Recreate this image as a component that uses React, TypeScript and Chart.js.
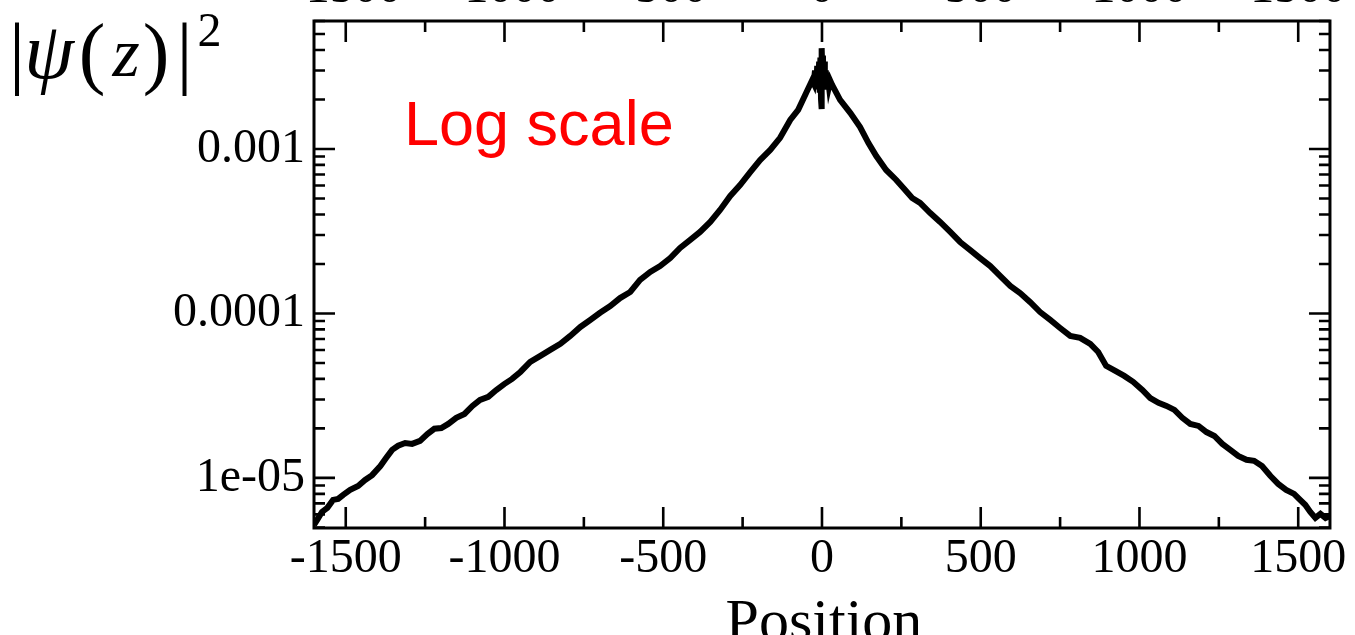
import React, { useEffect, useRef } from "react";
import { Chart, registerables } from "chart.js";

Chart.register(...registerables);

// ---- data ----
const positions: number[] = [
  -1600, -1590, -1575, -1558, -1540, -1524, -1508, -1486, -1461, -1439,
  -1417, -1391, -1373, -1354, -1335, -1313, -1291, -1266, -1243, -1221,
  -1199, -1177, -1152, -1126, -1101, -1077, -1051, -1026, -1001, -976,
  -950, -919, -887, -856, -824, -793, -761, -730, -699, -667,
  -636, -604, -573, -541, -510, -478, -447, -415, -384, -352,
  -321, -289, -258, -226, -195, -163, -132, -100, -75, -50,
  -31, -26, -22, -18, -15, -12, -9, -7, -5, -3,
  -2, -1, 0, 1, 3, 5, 7, 9, 12, 15,
  18, 22, 26, 32, 57, 89, 120, 146,
  171, 202, 234, 262, 284, 309, 341, 372, 404, 435,
  467, 498, 530, 561, 593, 624, 656, 687, 719, 750,
  782, 813, 845, 870, 895, 924, 952, 980, 1009, 1034,
  1060, 1085, 1110, 1135, 1160, 1186, 1211, 1236, 1261, 1286,
  1311, 1337, 1361, 1386, 1412, 1437, 1462, 1487, 1506, 1522,
  1538, 1554, 1570, 1586, 1600,
];

const density: number[] = [
  5.18e-6, 5.56e-6, 6.21e-6, 6.58e-6, 7.35e-6, 7.45e-6, 7.89e-6, 8.46e-6, 8.94e-6, 9.72e-6,
  1.04e-5, 1.18e-5, 1.32e-5, 1.48e-5, 1.57e-5, 1.63e-5, 1.61e-5, 1.68e-5, 1.85e-5, 1.99e-5,
  2.01e-5, 2.13e-5, 2.32e-5, 2.45e-5, 2.74e-5, 2.98e-5, 3.11e-5, 3.42e-5, 3.72e-5, 4.0e-5,
  4.41e-5, 5.07e-5, 5.52e-5, 6.0e-5, 6.53e-5, 7.3e-5, 8.28e-5, 9.13e-5, 1.01e-4, 1.11e-4,
  1.24e-4, 1.35e-4, 1.6e-4, 1.79e-4, 1.94e-4, 2.17e-4, 2.5e-4, 2.8e-4, 3.13e-4, 3.6e-4,
  4.26e-4, 5.18e-4, 6.04e-4, 7.24e-4, 8.57e-4, 9.86e-4, 1.17e-3, 1.5e-3, 1.73e-3, 2.19e-3,
  2.62e-3, 2.5e-3, 3.0e-3, 2.4e-3, 3.2e-3, 2.3e-3, 3.4e-3, 2.2e-3, 3.6e-3, 2.0e-3,
  1.75e-3, 3.3e-3, 4.1e-3, 3.0e-3, 3.7e-3, 2.4e-3, 3.4e-3, 2.3e-3, 3.0e-3, 2.3e-3,
  2.8e-3, 2.4e-3, 2.6e-3, 2.45e-3, 1.99e-3, 1.66e-3, 1.36e-3, 1.09e-3,
  9.06e-4, 7.45e-4, 6.48e-4, 5.64e-4, 5.04e-4, 4.7e-4, 4.08e-4, 3.6e-4, 3.13e-4, 2.72e-4,
  2.43e-4, 2.17e-4, 1.94e-4, 1.69e-4, 1.47e-4, 1.33e-4, 1.17e-4, 1.02e-4, 9.13e-5, 8.16e-5,
  7.3e-5, 7.1e-5, 6.53e-5, 5.83e-5, 4.8e-5, 4.47e-5, 4.17e-5, 3.84e-5, 3.43e-5, 3.06e-5,
  2.86e-5, 2.74e-5, 2.59e-5, 2.32e-5, 2.13e-5, 2.07e-5, 1.9e-5, 1.8e-5, 1.61e-5, 1.48e-5,
  1.36e-5, 1.29e-5, 1.27e-5, 1.18e-5, 1.03e-5, 9.2e-6, 8.46e-6, 8.0e-6, 7.35e-6, 6.86e-6,
  6.21e-6, 5.71e-6, 6.04e-6, 5.71e-6, 5.87e-6,
];

const xMajorTicks: number[] = [-1500, -1000, -500, 0, 500, 1000, 1500];
const xMinorTicks: number[] = [-1250, -750, -250, 250, 750, 1250];
const xTickLabels: string[] = ["-1500", "-1000", "-500", "0", "500", "1000", "1500"];
const yMajorTicks: number[] = [1e-5, 1e-4, 1e-3];
const yTickLabels: string[] = ["1e-05", "0.0001", "0.001"];
const xMin = -1600;
const xMax = 1600;
const yMin = 4.96e-6;
const yMax = 6.0e-3;

const xTitle = "Position";
const noteText = "Log scale";

const SERIF = "'Liberation Serif', 'Times New Roman', serif";
const SANS = "'Liberation Sans', Arial, sans-serif";

const decorPlugin = {
  id: "decor",
  afterDatasetsDraw(chart: any) {
    const { ctx, chartArea: a, scales } = chart;
    const xs = scales.x;
    const ys = scales.y;
    ctx.save();
    ctx.strokeStyle = "#000";
    ctx.lineCap = "butt";
    ctx.lineWidth = 2.6;
    const majorLen = 21;
    const minorLen = 11;
    const xTick = (v: number, len: number) => {
      const px = xs.getPixelForValue(v);
      ctx.beginPath();
      ctx.moveTo(px, a.bottom);
      ctx.lineTo(px, a.bottom - len);
      ctx.moveTo(px, a.top);
      ctx.lineTo(px, a.top + len);
      ctx.stroke();
    };
    const yTick = (v: number, len: number) => {
      const py = ys.getPixelForValue(v);
      ctx.beginPath();
      ctx.moveTo(a.left, py);
      ctx.lineTo(a.left + len, py);
      ctx.moveTo(a.right, py);
      ctx.lineTo(a.right - len, py);
      ctx.stroke();
    };
    xMajorTicks.forEach((v) => xTick(v, majorLen));
    xMinorTicks.forEach((v) => xTick(v, minorLen));
    yMajorTicks.forEach((v) => yTick(v, majorLen));
    const lo = Math.floor(Math.log10(yMin));
    const hi = Math.floor(Math.log10(yMax));
    for (let d = lo; d <= hi; d++) {
      for (let k = 2; k <= 9; k++) {
        const v = k * Math.pow(10, d);
        if (v >= yMin && v <= yMax) yTick(v, minorLen);
      }
    }
    // frame
    ctx.lineWidth = 3;
    ctx.strokeRect(a.left, a.top, a.right - a.left, a.bottom - a.top);

    // x title
    ctx.fillStyle = "#000";
    ctx.textAlign = "center";
    ctx.textBaseline = "alphabetic";
    ctx.font = `60px ${SERIF}`;
    ctx.fillText(xTitle, (a.left + a.right) / 2 + 2, 680);

    // y title |psi(z)|^2
    const base = 119;
    ctx.font = `80px ${SERIF}`;
    ctx.fillText("|", 17, base);
    ctx.fillText("(", 92, base);
    ctx.fillText(")", 156, base);
    ctx.fillText("|", 184.5, base);
    ctx.font = `italic 80px ${SERIF}`;
    ctx.fillText("\u03C8", 49, 118);
    ctx.font = `italic 70px ${SERIF}`;
    ctx.fillText("z", 126, 116);
    ctx.font = `48px ${SERIF}`;
    ctx.fillText("2", 209.5, 86);

    // red note
    ctx.textAlign = "left";
    ctx.fillStyle = "#ff0000";
    ctx.font = `63px ${SANS}`;
    ctx.fillText(noteText, 404, 185);
    ctx.restore();
  },
};

export default function App() {
  const canvasRef = useRef<HTMLCanvasElement | null>(null);

  useEffect(() => {
    document.body.style.margin = "0";
    document.body.style.overflow = "hidden";
    const canvas = canvasRef.current;
    if (!canvas) return;
    const pts = positions.map((x, i) => ({ x, y: density[i] }));
    const tickFont = { family: SERIF, size: 48, lineHeight: 1 };
    const chart = new Chart(canvas, {
      type: "line",
      data: {
        datasets: [
          {
            data: pts,
            borderColor: "#000",
            borderWidth: 6,
            borderJoinStyle: "miter",
            pointRadius: 0,
            tension: 0,
            fill: false,
            xAxisID: "x",
            yAxisID: "y",
          },
        ],
      },
      options: {
        responsive: false,
        animation: false,
        devicePixelRatio: 1,
        layout: { padding: { left: 0, right: 25, top: 0, bottom: 0 } },
        plugins: { legend: { display: false }, tooltip: { enabled: false } },
        scales: {
          x: {
            type: "linear",
            position: "bottom",
            min: xMin,
            max: xMax,
            afterBuildTicks: (s: any) => {
              s.ticks = xMajorTicks.map((v) => ({ value: v }));
            },
            afterFit: (s: any) => {
              s.height = 107;
            },
            grid: { display: false, drawTicks: false },
            border: { display: false },
            ticks: {
              font: tickFont,
              color: "#000",
              padding: 7,
              maxRotation: 0,
              autoSkip: false,
              callback: (_v: any, i: number) => xTickLabels[i],
            },
          },
          xTop: {
            type: "linear",
            position: "top",
            min: xMin,
            max: xMax,
            afterBuildTicks: (s: any) => {
              s.ticks = xMajorTicks.map((v) => ({ value: v }));
            },
            afterFit: (s: any) => {
              s.height = 61;
            },
            grid: { display: false, drawTicks: false },
            border: { display: false },
            ticks: {
              font: tickFont,
              color: "#000",
              padding: 8,
              maxRotation: 0,
              autoSkip: false,
              callback: (_v: any, i: number) => xTickLabels[i],
            },
          },
          y: {
            type: "logarithmic",
            position: "left",
            min: yMin,
            max: yMax,
            afterBuildTicks: (s: any) => {
              s.ticks = yMajorTicks.map((v) => ({ value: v }));
            },
            afterFit: (s: any) => {
              s.width = 314;
            },
            grid: { display: false, drawTicks: false },
            border: { display: false },
            ticks: {
              font: tickFont,
              color: "#000",
              padding: 9,
              autoSkip: false,
              callback: (_v: any, i: number) => yTickLabels[i],
            },
          },
        },
      } as any,
      plugins: [decorPlugin],
    });
    return () => chart.destroy();
  }, []);

  return (
    <div
      style={{
        position: "absolute",
        left: 0,
        top: -40,
        width: 1355,
        height: 675,
        background: "#fff",
      }}
    >
      <canvas ref={canvasRef} width={1355} height={675} style={{ display: "block" }} />
    </div>
  );
}
